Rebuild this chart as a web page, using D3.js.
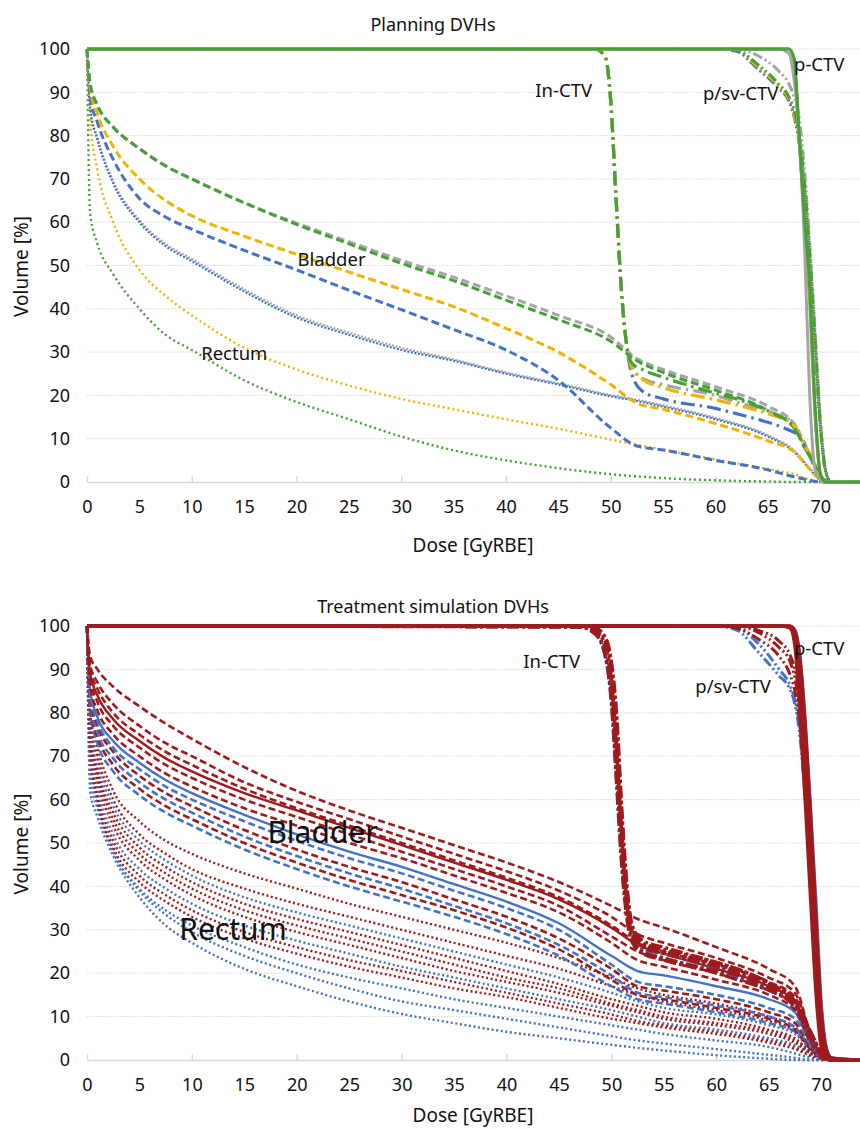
<!DOCTYPE html>
<html>
<head>
<meta charset="utf-8">
<script src="https://cdn.jsdelivr.net/npm/d3@7"></script>
<style>
  body { margin: 0; background: #fff; }
  text { font-family: "Noto Sans", sans-serif; fill: #111; }
</style>
</head>
<body>
<svg id="chart" width="860" height="1129"></svg>
<script>
// dose grids (GyRBE) shared by the DVH curves
var oarDose = [0, 0.3, 1, 2.5, 5, 7.5, 10, 15, 20, 25, 30, 35, 40, 45, 50, 52.5, 55, 60, 65, 67.5, 69, 70, 70.5];
var ctvDose = [0, 47, 48.5, 49.5, 50, 50.5, 51, 51.5, 52, 53, 55, 60, 62, 64, 66, 67, 67.5, 68, 68.5, 69, 69.5, 70, 70.5, 71, 73.8];
var doseTicks = [0, 5, 10, 15, 20, 25, 30, 35, 40, 45, 50, 55, 60, 65, 70];
var volumeTicks = [0, 10, 20, 30, 40, 50, 60, 70, 80, 90, 100];

// ---- planning DVHs (volume %) ----
var planBladderGray   = [100, 92, 87, 82, 77, 73, 70, 64.5, 59.8, 55.5, 51.2, 47.3, 43, 38.5, 33.5, 28.5, 26, 22, 17.5, 13.5, 6.5, 1.5, 0];
var planBladderGreen  = [100, 92, 87, 82, 77, 73, 70, 64.5, 59.5, 55, 50.5, 46.5, 42, 37.5, 32.5, 28, 25.3, 21.2, 16.5, 12.5, 6, 1.5, 0];
var planBladderYellow = [100, 91, 85, 77.5, 70, 65, 61.5, 56.8, 52.6, 48.5, 44.5, 40.5, 35.5, 30, 22.5, 18.2, 16.8, 13.5, 9.5, 7, 3, 0.5, 0];
var planBladderBlue   = [100, 89, 83, 74.5, 65.5, 61.2, 58.4, 53.5, 49, 44.3, 39.8, 35.2, 30.5, 23.5, 12.5, 8.3, 7.4, 5, 2.8, 1.2, 0.4, 0, 0];
var planRectumGray    = [100, 86.5, 79.5, 69.5, 60.5, 55, 51.5, 44.5, 38.5, 34.5, 31, 28.3, 25.3, 22.8, 20.1, 19, 17.7, 14.8, 10.8, 7.3, 3.2, 0.5, 0];
var planRectumBlue    = [100, 86, 79, 69, 60, 54.5, 51, 44, 38, 34, 30.5, 28, 25, 22.5, 19.8, 18.7, 17.4, 14.5, 10.5, 7, 3, 0.5, 0];
var planRectumYellow  = [100, 84, 72, 60, 49, 43, 38.5, 31, 26, 22.3, 19.2, 16.8, 14.5, 12.3, 9.8, 8.6, 7.5, 5.2, 3, 1.8, 0.5, 0, 0];
var planRectumGreen   = [100, 62, 55, 48, 40, 34, 30.5, 23.5, 18.5, 14.5, 10.5, 7.3, 5, 3.2, 1.8, 1.3, 0.9, 0.4, 0.1, 0, 0, 0, 0];

var planLnBlue   = [100, 100, 100, 98, 88, 66, 45, 32, 25, 21, 19.2, 17, 15.8, 14.5, 13, 12, 11.5, 10.5, 8, 6, 3.5, 1.5, 0.3, 0, 0];
var planLnGray   = [100, 100, 100, 98, 88, 66, 45, 32, 27, 24, 22.5, 20, 18.5, 17, 15.5, 14.5, 13.5, 11, 8.5, 6.5, 4, 1.5, 0.3, 0, 0];
var planLnYellow = [100, 100, 100, 98, 88, 66, 45, 32, 26.5, 23.8, 21.8, 19, 17.8, 16.5, 15, 14, 13, 11, 8.5, 6.5, 4, 1.5, 0.3, 0, 0];
var planLnGreen  = [100, 100, 100, 98, 88, 66, 45, 32, 27.5, 26, 24.2, 20.5, 19.2, 17.5, 15.3, 14, 12.5, 10.5, 8, 6, 3.5, 1.5, 0.3, 0, 0];

var planPsvYellow = [100, 100, 100, 100, 100, 100, 100, 100, 100, 100, 100, 100, 99.8, 96, 91.5, 88.5, 85, 79, 68, 52, 33, 14, 3, 0, 0];
var planPsvGray   = [100, 100, 100, 100, 100, 100, 100, 100, 100, 100, 100, 100, 100, 98.5, 95, 92, 89, 84, 72, 55, 35, 15, 3, 0, 0];
var planPsvBlue   = [100, 100, 100, 100, 100, 100, 100, 100, 100, 100, 100, 100, 99.5, 95.5, 91, 88, 84.5, 78, 67, 50, 31, 13, 2.5, 0, 0];
var planPsvGreen  = [100, 100, 100, 100, 100, 100, 100, 100, 100, 100, 100, 100, 99.7, 96.5, 92, 89, 86, 80, 69, 53, 34, 14, 3, 0, 0];

var planPBlue   = [100, 100, 100, 100, 100, 100, 100, 100, 100, 100, 100, 100, 100, 100, 100, 100, 97, 79, 60, 42, 16, 2, 0, 0, 0];
var planPYellow = [100, 100, 100, 100, 100, 100, 100, 100, 100, 100, 100, 100, 100, 100, 100, 100, 97.5, 79, 60, 43, 17, 2, 0, 0, 0];
var planPGray   = [100, 100, 100, 100, 100, 100, 100, 100, 100, 100, 100, 100, 100, 100, 100, 99, 93, 80, 55, 20, 3, 0.5, 0, 0, 0];
var planPGreen  = [100, 100, 100, 100, 100, 100, 100, 100, 100, 100, 100, 100, 100, 100, 100, 100, 98, 80, 61, 45, 18, 2, 0, 0, 0];

// ---- treatment simulation DVHs (volume %) ----
var simBladder1  = [100, 93, 90, 86, 81.5, 77.5, 74, 67.5, 62, 57.5, 53.5, 49.5, 45.5, 41, 35.5, 32.5, 30.5, 26, 21, 17, 6, 1, 0];
var simBladder2  = [100, 91, 87, 82, 77, 73, 70, 64, 59.5, 55.5, 51.5, 47.5, 43.5, 39, 33, 29, 27, 23.5, 19, 15.5, 6, 1, 0];
var simBladder3  = [100, 90, 85.5, 80, 75, 71, 68, 62.5, 58, 54, 50, 46, 42, 37.5, 31, 27, 25, 22, 18, 14.5, 5, 1, 0];
var simBladder4  = [100, 89, 84, 78.5, 73.5, 69.5, 66.5, 61.5, 57.5, 53.5, 49.5, 45.5, 41.5, 37, 30.5, 26.5, 24.5, 21, 17, 13.5, 5, 1, 0];
var simBladder5  = [100, 88, 82.5, 77, 72, 68, 65, 60, 56, 52, 48, 44, 40, 35.5, 28.5, 25, 23, 20, 16, 12.5, 4.5, 1, 0];
var simBladder6  = [100, 86, 80.5, 75, 70, 66, 63, 58, 54, 50, 46.5, 42.5, 38.5, 34, 27, 23, 21.5, 18.5, 15, 11.5, 4, 1, 0];
var simBladder7  = [100, 85, 79, 73.5, 68.5, 64.5, 61.5, 56.5, 52, 48, 44.5, 40.5, 36.5, 31.5, 24, 20.5, 19.5, 17, 14, 11, 4, 1, 0];
var simBladder8  = [100, 84, 78, 72, 67, 63, 60, 55, 50.5, 46.5, 43, 39, 35, 30, 22, 18, 17, 15, 12, 9.5, 3.5, 1, 0];
var simBladder9  = [100, 83, 77, 71, 65.5, 61.5, 58.5, 53, 48.5, 44.5, 41, 37, 33, 28, 21, 17, 16, 14, 11, 8.5, 3, 0.5, 0];
var simBladder10 = [100, 82, 75.5, 69.5, 64, 60, 57, 51.5, 47, 43, 39.5, 35.5, 31.5, 26.5, 19.5, 15.5, 14.5, 12.5, 10, 7.5, 3, 0.5, 0];
var simBladder11 = [100, 81, 74.5, 68, 62.5, 58.5, 55.5, 50, 45.5, 41.5, 38, 34.5, 30.5, 25.5, 18.5, 15, 14, 12, 9.5, 7, 2.5, 0.5, 0];
var simBladder12 = [100, 80, 73, 66.5, 61, 57, 54, 48.5, 44, 40, 36.5, 33, 29, 24, 17, 14, 13, 11, 8.5, 6.5, 2.5, 0.5, 0];

var simRectum1  = [100, 80, 72, 62, 55, 50.5, 47.5, 43, 39.5, 36, 33, 30, 27, 23.5, 19, 16.5, 15, 13, 10, 7.5, 3, 0.5, 0];
var simRectum2  = [100, 78, 70, 60, 52, 47.5, 44, 39.5, 36, 33, 30, 27, 24, 21, 17, 15, 13.5, 11.5, 9, 6.5, 2.5, 0.5, 0];
var simRectum3  = [100, 77, 68.5, 58.5, 50.5, 46, 42.5, 37.5, 34, 31, 28, 25, 22, 19, 15.5, 13.5, 12, 10.5, 8, 6, 2.5, 0.5, 0];
var simRectum4  = [100, 76, 67, 57, 49, 44.5, 41, 36, 32.5, 29.5, 26.5, 23.5, 20.5, 17.5, 14, 12.5, 11, 9.5, 7, 5, 2, 0.5, 0];
var simRectum5  = [100, 75, 66, 55.5, 47.5, 43, 39.5, 34.5, 31, 28, 25, 22, 19, 16.5, 13, 11.5, 10, 8.5, 6.5, 4.5, 2, 0.5, 0];
var simRectum6  = [100, 74, 64.5, 54, 46, 41.5, 38, 33, 29.5, 26.5, 23.5, 20.5, 18, 15.5, 12.5, 11, 9.5, 8, 6, 4, 1.5, 0.3, 0];
var simRectum7  = [100, 73, 63, 52, 44, 39.5, 36, 31, 27.5, 24.5, 21.5, 19, 16.5, 14, 11.5, 10, 8.5, 7, 5, 3.5, 1.5, 0.3, 0];
var simRectum8  = [100, 72, 61.5, 50.5, 42.5, 38, 34.5, 29.5, 26, 23, 20.5, 18, 15.5, 13, 10.5, 9, 8, 6.5, 4.5, 3, 1, 0.3, 0];
var simRectum9  = [100, 71, 60, 49, 41, 36.5, 33, 28, 24.5, 21.5, 19, 16.5, 14.5, 12, 9.5, 8.5, 7.5, 6, 4, 2.5, 1, 0.2, 0];
var simRectum10 = [100, 68, 59, 48, 39.5, 34.5, 31, 26, 22, 19, 16.5, 14, 12, 10, 8, 7, 6, 4.5, 3, 1.5, 0.5, 0, 0];
var simRectum11 = [100, 65, 58, 48, 39, 33.5, 29.5, 24, 20, 16.5, 13.5, 11.5, 9.5, 7.5, 5.5, 4.5, 3.8, 2.5, 1.2, 0.5, 0, 0, 0];
var simRectum12 = [100, 62, 56, 47, 37.5, 31, 27, 21, 17, 13.5, 10.6, 8.5, 6.5, 5, 3.5, 2.8, 2.2, 1.1, 0.3, 0, 0, 0, 0];

var simLn1  = [100, 100, 99.5, 97, 92, 80, 58, 40, 31, 27.5, 26, 22.5, 21, 19, 16.5, 15, 13.5, 11.5, 9, 6.5, 4, 1.5, 0.3, 0, 0];
var simLn2  = [100, 100, 99, 95, 88, 72, 52, 36, 29, 26, 24.5, 21.5, 20, 18, 16, 14.5, 13, 11, 8.5, 6, 3.5, 1.5, 0.3, 0, 0];
var simLn3  = [100, 99.8, 98.5, 93, 84, 66, 46, 33, 28, 25, 23.5, 20.5, 19.5, 17.5, 15.5, 14, 12.5, 10.5, 8, 5.5, 3, 1, 0.2, 0, 0];
var simLn4  = [100, 100, 99.5, 96, 90, 76, 55, 38, 30, 26.5, 25, 22, 20.5, 18.5, 16, 14.5, 13, 11, 8.5, 6, 3.5, 1.5, 0.3, 0, 0];
var simLn5  = [100, 99.7, 98, 92, 82, 63, 44, 32, 27, 24.5, 23, 20, 18.5, 17, 15, 13.5, 12, 10, 7.5, 5, 3, 1, 0.2, 0, 0];
var simLn6  = [100, 100, 99.5, 97, 91, 78, 56, 39, 30.5, 27, 25.5, 22.5, 21, 19, 16.5, 15, 13.5, 11.5, 9, 6.5, 4, 1.5, 0.3, 0, 0];
var simLnB1 = [100, 100, 99, 94, 86, 70, 50, 35, 28.5, 25.5, 24.5, 21.5, 20, 18, 15.5, 14, 12.5, 10.5, 8, 5.5, 3, 1, 0.2, 0, 0];
var simLnB2 = [100, 99.8, 98.5, 92, 83, 65, 47, 34, 28, 25, 23.5, 20.5, 19, 17, 15, 13.5, 12, 10, 7.5, 5, 3, 1, 0.2, 0, 0];

var simPsv1  = [100, 100, 100, 100, 100, 100, 100, 100, 100, 100, 100, 100, 100, 98.5, 95, 92, 88, 80, 66, 48, 28, 10, 2, 0, 0];
var simPsv2  = [100, 100, 100, 100, 100, 100, 100, 100, 100, 100, 100, 100, 99.5, 97, 93, 89, 85, 77, 62, 44, 25, 8, 1.5, 0, 0];
var simPsv3  = [100, 100, 100, 100, 100, 100, 100, 100, 100, 100, 100, 100, 100, 99, 96.5, 93.5, 90, 83, 70, 52, 31, 12, 2.5, 0, 0];
var simPsvB1 = [100, 100, 100, 100, 100, 100, 100, 100, 100, 100, 100, 100, 99, 94, 88.5, 85.5, 82, 74, 60, 43, 25, 8, 1.5, 0, 0];
var simPsvB2 = [100, 100, 100, 100, 100, 100, 100, 100, 100, 100, 100, 100, 99.5, 96, 90, 86.5, 83, 76, 63, 46, 27, 9, 2, 0, 0];

var simPB1 = [100, 100, 100, 100, 100, 100, 100, 100, 100, 100, 100, 100, 100, 100, 100, 100, 99, 93, 78, 58, 37, 14, 3, 0.5, 0];
var simP1  = [100, 100, 100, 100, 100, 100, 100, 100, 100, 100, 100, 100, 100, 100, 100, 100, 97, 84, 64, 43, 22, 6, 1, 0, 0];
var simP2  = [100, 100, 100, 100, 100, 100, 100, 100, 100, 100, 100, 100, 100, 100, 100, 99.5, 95, 78, 58, 36, 15, 3, 0.5, 0, 0];
var simP3  = [100, 100, 100, 100, 100, 100, 100, 100, 100, 100, 100, 100, 100, 100, 100, 100, 98.5, 90, 74, 53, 30, 10, 2, 0.3, 0];
var simP4  = [100, 100, 100, 100, 100, 100, 100, 100, 100, 100, 100, 100, 100, 100, 100, 100, 99, 92, 77, 57, 34, 12, 2.5, 0.5, 0];

// colours
var green = "#45a136", gray = "#a5a5a5", yellow = "#f0b400", blue = "#4472c4", red = "#9e1a1c";

// line styles
var bladderStyle = { dash: "8,4", width: 3 };
var rectumStyle  = { dash: "2,3", width: 2.4 };
var fineDotStyle = { dash: "2,1.6", width: 2.2 };
var lnStyle      = { dash: "14,5,2.5,5", width: 3.2 };
var psvStyle     = { dash: "10,3,2,3,2,3", width: 3 };
var pStyle       = { dash: null, width: 3 };

var simBladderStyle = { dash: "7,3.5", width: 2.6 };
var simSolidStyle   = { dash: null, width: 2.4 };
var simRectumStyle  = { dash: "2,2.6", width: 2.4 };
var simLnStyle      = { dash: "12,3,3,3", width: 3.2 };

function s(dose, vol, color, style) {
  return { dose: dose, vol: vol, color: color, style: style };
}

var planSeries = [
  s(oarDose, planRectumGreen, green, rectumStyle),
  s(oarDose, planRectumYellow, yellow, rectumStyle),
  s(oarDose, planRectumGray, gray, fineDotStyle),
  s(oarDose, planRectumBlue, blue, fineDotStyle),
  s(oarDose, planBladderBlue, blue, bladderStyle),
  s(oarDose, planBladderYellow, yellow, bladderStyle),
  s(oarDose, planBladderGray, gray, bladderStyle),
  s(oarDose, planBladderGreen, green, bladderStyle),
  s(ctvDose, planLnBlue, blue, lnStyle),
  s(ctvDose, planLnGray, gray, lnStyle),
  s(ctvDose, planLnYellow, yellow, lnStyle),
  s(ctvDose, planLnGreen, green, lnStyle),
  s(ctvDose, planPsvGray, gray, psvStyle),
  s(ctvDose, planPsvBlue, blue, psvStyle),
  s(ctvDose, planPsvYellow, yellow, psvStyle),
  s(ctvDose, planPsvGreen, green, psvStyle),
  s(ctvDose, planPBlue, blue, pStyle),
  s(ctvDose, planPYellow, yellow, pStyle),
  s(ctvDose, planPGray, gray, pStyle),
  s(ctvDose, planPGreen, green, pStyle)
];

var simSeries = [
  s(oarDose, simRectum12, blue, simRectumStyle),
  s(oarDose, simRectum11, blue, simRectumStyle),
  s(oarDose, simRectum10, blue, simRectumStyle),
  s(oarDose, simRectum9, red, simRectumStyle),
  s(oarDose, simRectum8, red, simRectumStyle),
  s(oarDose, simRectum7, blue, simRectumStyle),
  s(oarDose, simRectum6, red, simRectumStyle),
  s(oarDose, simRectum5, red, simRectumStyle),
  s(oarDose, simRectum4, red, simRectumStyle),
  s(oarDose, simRectum3, blue, simRectumStyle),
  s(oarDose, simRectum2, red, simRectumStyle),
  s(oarDose, simRectum1, red, simRectumStyle),
  s(oarDose, simBladder12, blue, simBladderStyle),
  s(oarDose, simBladder11, red, simBladderStyle),
  s(oarDose, simBladder10, blue, simBladderStyle),
  s(oarDose, simBladder9, red, simBladderStyle),
  s(oarDose, simBladder8, blue, simBladderStyle),
  s(oarDose, simBladder7, blue, simSolidStyle),
  s(oarDose, simBladder6, red, simBladderStyle),
  s(oarDose, simBladder5, red, simBladderStyle),
  s(oarDose, simBladder4, red, simSolidStyle),
  s(oarDose, simBladder3, red, simBladderStyle),
  s(oarDose, simBladder2, red, simBladderStyle),
  s(oarDose, simBladder1, red, simBladderStyle),
  s(ctvDose, simLnB1, blue, simLnStyle),
  s(ctvDose, simLnB2, blue, simLnStyle),
  s(ctvDose, simLn1, red, simLnStyle),
  s(ctvDose, simLn2, red, simLnStyle),
  s(ctvDose, simLn3, red, simLnStyle),
  s(ctvDose, simLn4, red, simLnStyle),
  s(ctvDose, simLn5, red, simLnStyle),
  s(ctvDose, simLn6, red, simLnStyle),
  s(ctvDose, simPsvB1, blue, psvStyle),
  s(ctvDose, simPsvB2, blue, psvStyle),
  s(ctvDose, simPsv1, red, psvStyle),
  s(ctvDose, simPsv2, red, psvStyle),
  s(ctvDose, simPsv3, red, psvStyle),
  s(ctvDose, simPB1, blue, pStyle),
  s(ctvDose, simP1, red, pStyle),
  s(ctvDose, simP2, red, pStyle),
  s(ctvDose, simP3, red, pStyle),
  s(ctvDose, simP4, red, pStyle)
];

var svg = d3.select("#chart");

function drawPanel(p) {
  var x = d3.scaleLinear().domain([0, 73.8]).range([87, p.right]);
  var y = d3.scaleLinear().domain([0, 100]).range([p.bottom, p.top]);
  var g = svg.append("g");

  g.append("text")
    .attr("x", 433).attr("y", p.titleY)
    .attr("text-anchor", "middle")
    .style("font-size", "18px")
    .text(p.title);

  // dotted horizontal gridlines
  g.append("g").selectAll("line")
    .data(volumeTicks.slice(1))
    .join("line")
    .attr("x1", 87).attr("x2", 860)
    .attr("y1", d => y(d)).attr("y2", d => y(d))
    .attr("stroke", "#d6d6d6")
    .attr("stroke-dasharray", "1.5,1.5");

  // y tick labels
  var yAxis = g.append("g")
    .attr("transform", "translate(74,0)")
    .call(d3.axisLeft(y).tickValues(volumeTicks).tickSize(0).tickPadding(4));
  yAxis.select(".domain").remove();
  yAxis.selectAll("text").style("font-size", "18px").style("font-family", "'Noto Sans', sans-serif").attr("fill", "#111");

  // x axis line + labels every 5
  var xAxis = g.append("g")
    .attr("transform", `translate(0, ${p.bottom})`)
    .call(d3.axisBottom(x).tickValues(doseTicks).tickSize(0).tickPadding(18));
  xAxis.select(".domain").attr("stroke", "#d9d9d9").attr("stroke-width", 1.5);
  xAxis.selectAll("text").style("font-size", "18px").style("font-family", "'Noto Sans', sans-serif").attr("fill", "#111");

  // small inward tick marks every 10 Gy
  var tickAxis = g.append("g")
    .attr("transform", `translate(0, ${p.bottom})`)
    .call(d3.axisBottom(x).tickValues(d3.range(0, 71, 10)).tickSize(-6).tickFormat(""));
  tickAxis.select(".domain").remove();
  tickAxis.selectAll("line").attr("stroke", "#d9d9d9").attr("stroke-width", 1.5);

  // axis titles
  g.append("text")
    .attr("transform", `translate(28, ${(p.top + p.bottom) / 2 + 1}) rotate(-90)`)
    .attr("text-anchor", "middle")
    .style("font-size", "19px")
    .text("Volume [%]");

  g.append("text")
    .attr("x", 473).attr("y", p.xTitleY)
    .attr("text-anchor", "middle")
    .style("font-size", "19px")
    .text("Dose [GyRBE]");

  // DVH curves
  var line = d3.line()
    .x(d => x(d[0]))
    .y(d => y(d[1]))
    .curve(d3.curveMonotoneX);

  g.append("g").selectAll("path")
    .data(p.series)
    .join("path")
    .attr("d", d => line(d3.zip(d.dose, d.vol)))
    .attr("fill", "none")
    .attr("stroke", d => d.color)
    .attr("stroke-width", d => d.style.width)
    .attr("stroke-dasharray", d => d.style.dash);

  // structure labels
  g.append("g").selectAll("text")
    .data(p.labels)
    .join("text")
    .attr("x", d => x(d.dose))
    .attr("y", d => y(d.vol))
    .style("font-size", d => d.size + "px")
    .text(d => d.text);
}

drawPanel({
  title: "Planning DVHs",
  titleY: 31,
  top: 49, bottom: 482, right: 860,
  xTitleY: 552,
  series: planSeries,
  labels: [
    { text: "Bladder", dose: 20.1, vol: 49.9, size: 18.5 },
    { text: "Rectum", dose: 10.9, vol: 28.2, size: 18.5 },
    { text: "In-CTV", dose: 42.8, vol: 88.9, size: 18.5 },
    { text: "p/sv-CTV", dose: 58.8, vol: 88.2, size: 18.5 },
    { text: "p-CTV", dose: 67.5, vol: 94.9, size: 18.5 }
  ]
});

drawPanel({
  title: "Treatment simulation DVHs",
  titleY: 613,
  top: 626, bottom: 1060, right: 861,
  xTitleY: 1122,
  series: simSeries,
  labels: [
    { text: "Bladder", dose: 17.2, vol: 50, size: 30 },
    { text: "Rectum", dose: 8.8, vol: 27.6, size: 30 },
    { text: "In-CTV", dose: 41.6, vol: 90.3, size: 18.5 },
    { text: "p/sv-CTV", dose: 58, vol: 84.6, size: 18.5 },
    { text: "p-CTV", dose: 67.4, vol: 93.3, size: 18.5 }
  ]
});
</script>
</body>
</html>
